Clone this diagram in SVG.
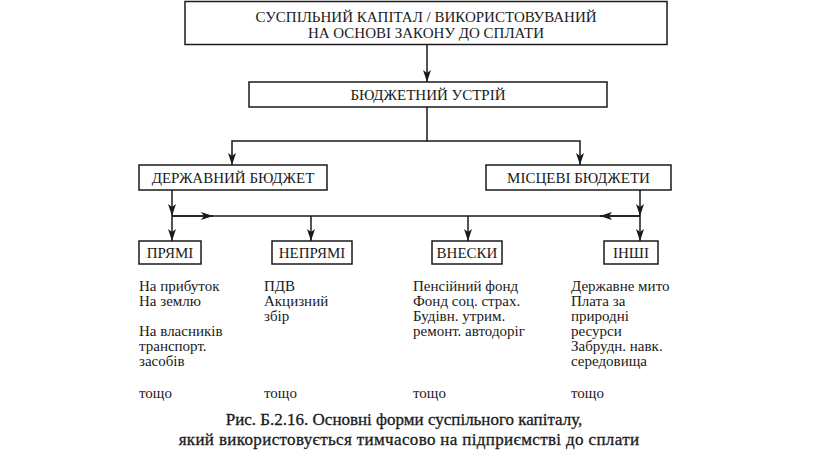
<svg xmlns="http://www.w3.org/2000/svg" width="816" height="470" viewBox="0 0 816 470">
<defs>
<style>
.box{fill:#fff;stroke:#1a1a1a;stroke-width:1.5}
.t{font-family:"Liberation Serif","Times New Roman",serif;font-size:15px;fill:#1a1a1a}
.c{text-anchor:middle}
.ln{fill:none;stroke:#1a1a1a;stroke-width:1.5}
.cap{font-family:"Liberation Serif","Times New Roman",serif;font-size:17px;fill:#1a1a1a;stroke:#1a1a1a;stroke-width:0.3;text-anchor:middle}
</style>
<marker id="ah" markerWidth="12" markerHeight="10" viewBox="0 0 12 10" refX="12" refY="5" orient="auto" markerUnits="userSpaceOnUse">
<path d="M0,1 L12,5 L0,9 L3,5 Z" fill="#1a1a1a"/>
</marker>
</defs>
<rect width="816" height="470" fill="#fff"/>
<g id="connectors">
<path class="ln" d="M427,45 V82" marker-end="url(#ah)"/>
<path class="ln" d="M427,107 V141 H232 V165" marker-end="url(#ah)"/>
<path class="ln" d="M427,141 H580 V165" marker-end="url(#ah)"/>
<path class="ln" d="M172,190 V216" marker-end="url(#ah)"/>
<path class="ln" d="M172,216 V241" marker-end="url(#ah)"/>
<path class="ln" d="M640,190 V216" marker-end="url(#ah)"/>
<path class="ln" d="M640,216 V241" marker-end="url(#ah)"/>
<path class="ln" d="M172,216 H640"/>
<path class="ln" d="M172,216 H213" marker-end="url(#ah)"/>
<path class="ln" d="M640,216 H600" marker-end="url(#ah)"/>
<path class="ln" d="M311,216 V241" marker-end="url(#ah)"/>
<path class="ln" d="M468,216 V241" marker-end="url(#ah)"/>
</g>
<g id="top">
<rect class="box" x="185" y="1.5" width="482" height="43"/>
<text class="t c" x="426" y="22">СУСПІЛЬНИЙ КАПІТАЛ / ВИКОРИСТОВУВАНИЙ</text>
<text class="t c" x="426" y="38">НА ОСНОВІ ЗАКОНУ ДО СПЛАТИ</text>
</g>
<g id="budget">
<rect class="box" x="249" y="82" width="358" height="25"/>
<text class="t c" x="428" y="100">БЮДЖЕТНИЙ УСТРІЙ</text>
</g>
<g id="state">
<rect class="box" x="139" y="165" width="188" height="25"/>
<text class="t c" x="233" y="183">ДЕРЖАВНИЙ БЮДЖЕТ</text>
</g>
<g id="local">
<rect class="box" x="486" y="165" width="185" height="25"/>
<text class="t c" x="578.5" y="183">МІСЦЕВІ БЮДЖЕТИ</text>
</g>
<g id="direct">
<rect class="box" x="139" y="241" width="62" height="23"/>
<text class="t c" x="170" y="258">ПРЯМІ</text>
</g>
<g id="indirect">
<rect class="box" x="272" y="241" width="80" height="23"/>
<text class="t c" x="312" y="258">НЕПРЯМІ</text>
</g>
<g id="contrib">
<rect class="box" x="432" y="241" width="70" height="23"/>
<text class="t c" x="467" y="258">ВНЕСКИ</text>
</g>
<g id="other">
<rect class="box" x="604" y="241" width="54" height="23"/>
<text class="t c" x="631" y="258">ІНШІ</text>
</g>
<g id="lists">
<text class="t" x="139" y="291">На прибуток</text>
<text class="t" x="139" y="306">На землю</text>
<text class="t" x="139" y="336">На власників</text>
<text class="t" x="139" y="351">транспорт.</text>
<text class="t" x="139" y="366">засобів</text>
<text class="t" x="139" y="398">тощо</text>
<text class="t" x="264" y="291">ПДВ</text>
<text class="t" x="264" y="306">Акцизний</text>
<text class="t" x="264" y="321">збір</text>
<text class="t" x="264" y="398">тощо</text>
<text class="t" x="413" y="291">Пенсійний фонд</text>
<text class="t" x="413" y="306">Фонд соц. страх.</text>
<text class="t" x="413" y="321">Будівн. утрим.</text>
<text class="t" x="413" y="336">ремонт. автодоріг</text>
<text class="t" x="413" y="398">тощо</text>
<text class="t" x="571" y="291">Державне мито</text>
<text class="t" x="571" y="306">Плата за</text>
<text class="t" x="571" y="321">природні</text>
<text class="t" x="571" y="336">ресурси</text>
<text class="t" x="571" y="351">Забрудн. навк.</text>
<text class="t" x="571" y="366">середовища</text>
<text class="t" x="571" y="398">тощо</text>
</g>
<g id="caption">
<text class="cap" x="404" y="425">Рис. Б.2.16. Основні форми суспільного капіталу,</text>
<text class="cap" x="409" y="445" letter-spacing="0.35">який використовується тимчасово на підприємстві до сплати</text>
</g>
</svg>
